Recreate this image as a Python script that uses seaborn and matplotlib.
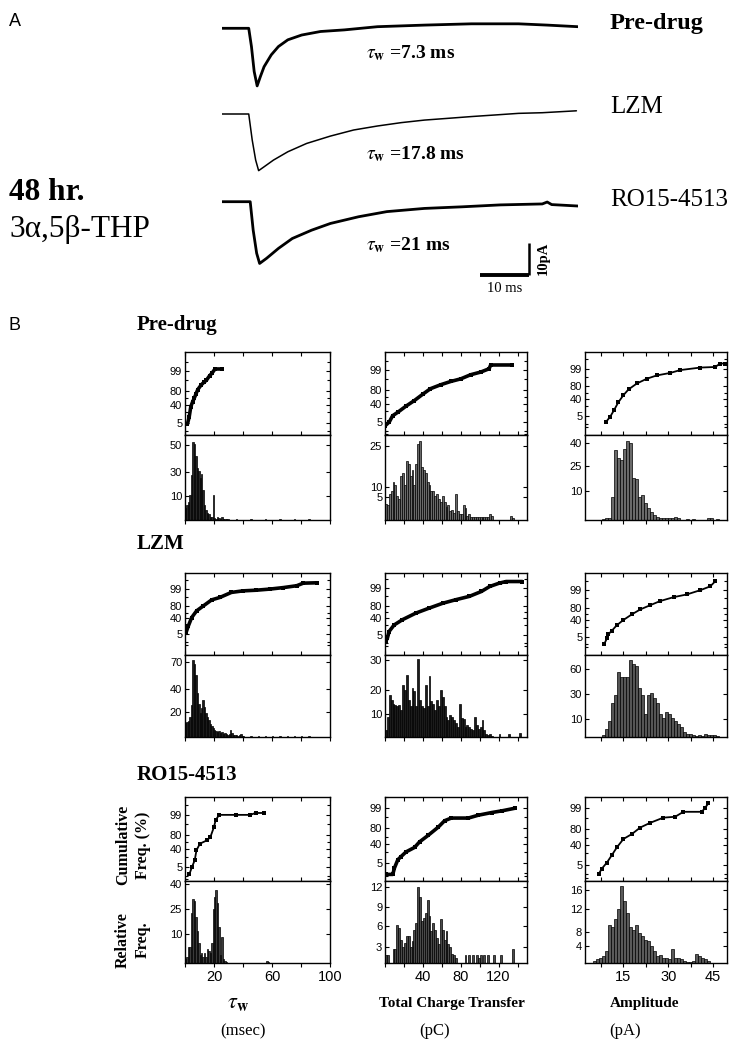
import numpy as np
import pandas as pd
import matplotlib
matplotlib.use("Agg")
import matplotlib.pyplot as plt
import seaborn as sns
from statistics import NormalDist

# ---------------- Panel A: averaged sIPSC traces (ms, pA) ----------------
trace_names = ["Pre-drug", "LZM", "RO15-4513"]
tau_values = ["7.3", "17.8", "21"]

pre_t = [0, 5.4, 5.95, 6.5, 7.1, 7.75, 8.5, 9.95, 11.4, 13.3, 16.1, 19.9, 24.7, 31.4, 40.9, 50.4, 59.9, 65.7, 71.9]
pre_i = [0, 0, -5.7, -13.5, -18.0, -15.1, -12.0, -8.3, -5.7, -3.6, -2.1, -1.0, -0.5, 0.5, 1.0, 1.4, 1.4, 1.0, 0.5]
lzm_t = [0, 5.4, 6.1, 6.8, 7.4, 8.5, 10.4, 13.3, 17.1, 21.9, 26.6, 31.4, 36.2, 40.9, 45.7, 50.4, 55.2, 59.9, 64.7, 71.6]
lzm_i = [0, 0, -8.1, -14.4, -17.7, -16.5, -14.4, -11.8, -9.2, -6.9, -5.0, -3.75, -2.7, -1.9, -1.35, -0.8, -0.3, 0.2, 0.4, 1.0]
ro_t = [0, 5.7, 6.3, 7.0, 7.6, 9.0, 11.4, 14.2, 18.1, 21.9, 27.6, 33.3, 40.9, 48.5, 56.2, 64.7, 65.7, 66.6, 71.9]
ro_i = [0, 0, -8.9, -16.1, -19.3, -17.7, -14.6, -11.5, -8.9, -6.8, -4.7, -3.1, -2.1, -1.6, -1.0, -0.7, -0.1, -0.9, -1.35]

scale_ms = 10
scale_pa = 10

# ---------------- Panel B: cumulative curves (x, %) ----------------
pre_tau_cx = [1.7, 2.9, 4.0, 5.2, 6.4, 7.6, 8.8, 11.2, 13.0, 14.8, 17.0, 18.5, 20.7, 25.5]
pre_tau_cp = [4, 11.5, 34, 48, 60, 72, 82, 90, 93, 95, 97.7, 98.5, 99.4, 99.4]
pre_chg_cx = [0, 4.6, 8, 13.3, 22, 31, 40, 48, 59, 69.5, 80, 90.5, 101, 110, 111.6, 134]
pre_chg_cp = [2.5, 5, 12, 18, 33, 50, 69, 82, 89, 93, 95.3, 97.7, 98.6, 99.3, 99.7, 99.7]
pre_amp_cx = [9.2, 10.7, 12, 13.4, 15.1, 16.8, 19.6, 22.9, 26.2, 30.7, 34, 40.7, 45.7, 47.3, 49]
pre_amp_cp = [1.5, 4.5, 12.7, 31, 54, 72, 86, 93, 96, 97.5, 98.6, 99.2, 99.3, 99.7, 99.7]

lzm_tau_cx = [0.7, 2.3, 4.6, 8, 12.6, 18.4, 24, 32, 40, 49, 58.6, 67.8, 77, 81.6, 90.8]
lzm_tau_cp = [6.7, 18, 43, 66, 80, 91.6, 94.4, 97.9, 98.5, 98.7, 99, 99.3, 99.56, 99.78, 99.8]
lzm_chg_cx = [0.7, 2.5, 4.3, 9.6, 18.4, 32.6, 46.8, 61, 75, 89, 101.8, 110.6, 121, 128, 145]
lzm_chg_cp = [1.4, 2.7, 8.7, 21, 36, 58, 73.5, 85, 91, 94.7, 97.9, 99.3, 99.7, 99.8, 99.8]
lzm_amp_cx = [8.7, 9.6, 10.1, 11.2, 12.9, 15.1, 17.9, 20.7, 24, 27.3, 31.8, 36.2, 40.7, 44, 45.7]
lzm_amp_cp = [1.1, 3.5, 7.4, 12.3, 25, 41, 60, 75, 85, 91.8, 95.8, 97.5, 99, 99.6, 99.9]

ro_tau_cx = [3.1, 4.8, 6.7, 7.9, 10.3, 15.1, 17.5, 19.9, 21.1, 23.5, 35.5, 45, 48.7, 54.7]
ro_tau_cp = [1.5, 5, 13, 36, 56, 65.7, 74.5, 92, 97.4, 99.1, 99.1, 99.1, 99.4, 99.4]
ro_chg_cx = [1, 8.2, 10, 13.5, 17, 22.3, 31.2, 36.5, 45.4, 56, 63, 70, 88, 98.6, 112.8, 123.4, 137.6]
ro_chg_cp = [0.7, 0.7, 2.3, 7.9, 12, 20, 30, 45, 63, 82, 91.8, 94.3, 94.3, 96.3, 97.6, 98.2, 98.9]
ro_amp_cx = [6.8, 7.9, 9.6, 11.2, 12.9, 15.1, 17.9, 20.7, 24, 28.4, 32.3, 35.1, 41.2, 42.3, 43.4]
ro_amp_cp = [1, 2.7, 6.7, 16, 33, 56, 69, 83, 90, 95, 95.6, 98, 98, 99, 99.6]

# ---------------- Panel B: relative frequency histograms ----------------
pre_tau_h = [8, 10, 12, 17, 30, 52, 51, 43, 35, 33, 28, 31, 20, 10, 7, 5, 4, 2, 2, 17,
             1.5, 1, 2, 1.5, 1, 2, 0.5, 0.5, 0.4, 0.4, 0, 0, 0, 0, 0, 0.4, 0, 0, 0, 0,
             0, 0, 0, 0, 0, 0.4, 0, 0, 0, 0, 0, 0, 0, 0, 0, 0.4, 0, 0, 0, 0,
             0, 0, 0, 0, 0, 0.4, 0, 0, 0, 0, 0, 0, 0, 0, 0, 0.4, 0, 0, 0, 0,
             0, 0, 0, 0, 0, 0.4]
pre_chg_h = [5.6, 5, 9, 10, 13, 12, 8, 7, 15, 16, 12, 20, 19, 15, 17, 12, 19, 26, 27, 18,
             17, 16, 13, 12, 10, 10, 8, 9, 7, 6, 8, 6, 4.5, 5, 3, 3.5, 2.5, 9, 3, 2,
             2, 5, 4, 1.5, 2, 1, 1, 1, 1, 1, 1, 1, 1, 1, 1, 2, 1.5, 0, 0, 0,
             0, 0, 0, 0, 0, 0, 1.2, 0.8]
pre_amp_h = [0.5, 1, 1, 12, 36, 32, 31, 37, 41, 40, 22, 21, 12, 13, 9, 6, 4, 2.5, 1.5, 1.2,
             1, 1.2, 0.8, 1, 1.5, 1.2, 0, 0, 0.6, 0, 0.6, 0, 0, 0, 0, 0.8, 0.8, 0, 0.4]

lzm_tau_h = [13, 14, 15, 19, 30, 72, 68, 58, 41, 31, 22, 27, 35, 28, 22, 19, 16, 12, 10, 8,
             7, 6, 5, 6, 4, 5, 3, 4, 3, 2, 3, 7, 4, 2, 1.5, 1.5, 1, 2, 3, 1,
             1, 0, 0, 0, 0, 1, 0, 0, 0, 0, 1, 0, 0, 0, 0, 1, 0, 0, 0, 0,
             1, 0, 0, 0, 0, 0.5, 0, 0, 0, 0, 1, 0, 0, 0, 0, 0.5, 0, 0, 0, 0,
             1, 0, 0, 0, 0, 0.5]
lzm_chg_h = [2.6, 8, 16.5, 14.5, 13, 12.5, 12, 12.5, 10.5, 20.5, 18.5, 24.4, 14.5, 12, 19, 18, 12, 30.4, 14.5, 12,
             11.5, 20.5, 12, 23.8, 14, 13, 10.5, 14.5, 12, 18.5, 15.8, 12, 8, 6.6, 8.6, 8, 6.6, 5.3, 4, 13,
             7.3, 7, 4, 4.6, 4, 3.3, 2.6, 8, 4.6, 3.3, 4, 6.6, 2.6, 1.3, 0.7, 1.3, 0.3, 0, 0, 0,
             1, 0, 0, 0, 0, 1.3, 0, 0, 0, 0, 0, 1.6]
lzm_amp_h = [1.4, 7, 14, 30, 37, 58, 53, 53, 53, 68, 65, 63, 43, 37, 20, 37, 39, 35, 30, 20,
             17, 22, 20, 17, 14, 11.5, 8.6, 4.3, 2.9, 2.3, 1.4, 1.2, 2, 1.2, 2.3, 1.4, 2, 1.4, 0.9]

ro_tau_h = [2, 3, 8, 8, 25, 32, 31, 23, 16, 10, 4, 5, 3, 5, 3, 7, 6, 5, 10, 27,
            33, 37, 30, 18, 4, 13, 2, 1, 0.5, 0, 0, 0, 0, 0, 0, 0, 0, 0, 0, 0,
            0, 0, 0, 0, 0, 0, 0, 0, 0, 0, 0, 0, 0, 0, 0, 0, 0.8, 0.6]
ro_chg_h = [1.2, 1.2, 0, 0, 2.2, 2.2, 6, 5.5, 3.7, 2.5, 3.2, 4.3, 4.3, 2.5, 3.5, 5.3, 6.4, 12, 10.5, 6.6,
            7.1, 7.9, 10, 7.4, 5, 6.4, 5.3, 4, 3, 6.9, 5.3, 3.7, 5, 3, 2.5, 1.4, 1.2, 0.8, 0, 0,
            0, 0, 1.2, 0, 1.2, 0, 1.2, 0, 1.2, 0.8, 1.2, 0, 1.2, 0, 1.2, 0, 0, 1.2, 0, 0,
            0, 1.2, 0, 0, 0, 0, 0, 2.2]
ro_amp_h = [0.5, 0.8, 1, 1.5, 2.6, 8.3, 7.9, 9.7, 11.8, 16.7, 13.5, 11, 7.9, 7.2, 8.3, 6.5, 5.8, 5, 4.7, 3.7,
            2.6, 1.5, 1.7, 1.2, 1, 0.8, 3, 1.2, 1.2, 0.8, 0.5, 0.3, 0.3, 0.5, 1.9, 1.5, 1.2, 0.8, 0.5]

row_names = ["Pre-drug", "LZM", "RO15-4513"]
x_titles = [r"$\tau_\mathbf{w}$", "Total Charge Transfer", "Amplitude"]
x_units = ["(msec)", "(pC)", "(pA)"]

# ---------------------------------------------------------------------
sns.set_theme(style="ticks")
plt.rcParams["font.family"] = ["Liberation Sans", "DejaVu Sans"]
plt.rcParams["mathtext.fontset"] = "stix"
for key in ["text.color", "axes.labelcolor", "xtick.color", "ytick.color", "axes.edgecolor"]:
    plt.rcParams[key] = "black"
SERIF = ["Liberation Serif", "DejaVu Serif"]

W, H = 732, 1050
fig = plt.figure(figsize=(W / 100, H / 100), dpi=100)


def px_axes(x0, y0, x1, y1):
    return fig.add_axes([x0 / W, 1 - y1 / H, (x1 - x0) / W, (y1 - y0) / H])


def px_text(x, y, s, **kw):
    kw.setdefault("va", "center")
    kw.setdefault("color", "black")
    fig.text(x / W, 1 - y / H, s, **kw)


# ---- Panel A ----
traces = [(pre_t, pre_i, 2.0), (lzm_t, lzm_i, 1.1), (ro_t, ro_i, 2.0)]
bases = [28.3, 114, 201.7]
px_per_ms, px_per_pa = 4.95, 3.2
for k, (t, i, lw) in enumerate(traces):
    b = bases[k]
    below = 90 if k == 2 else 70
    ax = px_axes(222, b - 15, 578, b + below)
    sns.lineplot(x=t, y=i, ax=ax, color="black", lw=lw, estimator=None, sort=False)
    ax.set_xlim(0, 356 / px_per_ms)
    ax.set_ylim(-below / px_per_pa, 15 / px_per_pa)
    ax.axis("off")
    if k == 2:
        x_end = (529 - 222) / px_per_ms
        y_bar = -(275 - b) / px_per_pa
        ax.plot([x_end - scale_ms, x_end], [y_bar, y_bar], color="black", lw=2.8,
                solid_capstyle="butt")
        ax.plot([x_end, x_end], [y_bar, y_bar + scale_pa], color="black", lw=1.8,
                solid_capstyle="butt")

px_text(9, 21, "A", fontsize=13)
px_text(9, 192, "48 hr.", family=SERIF, fontsize=22.5, fontweight="bold")
px_text(9, 229, "3α,5β-THP", family=SERIF, fontsize=22.5)
for k, name in enumerate(trace_names):
    px_text(610, [24, 107, 200][k], name, family=SERIF, fontsize=17.5 if k == 0 else 18,
            fontweight="bold" if k == 0 else "normal")
    px_text(366, [53, 154, 245][k], r"$\tau_\mathbf{w}$ =" + tau_values[k] + " ms",
            family=SERIF, fontsize=14, fontweight="bold")
px_text(505, 288, "10 ms", family=SERIF, fontsize=10.5, ha="center")
px_text(543, 258, "10pA", family=SERIF, fontsize=10.5, fontweight="bold",
        rotation=90, ha="center")

# ---- Panel B ----
px_text(8, 325, "B", fontsize=13)

ND = NormalDist()


def probit(p):
    p = np.clip(np.asarray(p, dtype=float) / 100.0, 1e-9, 1 - 1e-9)
    return np.vectorize(ND.inv_cdf, otypes=[float])(p)


def unprobit(z):
    return np.vectorize(ND.cdf, otypes=[float])(np.asarray(z, dtype=float)) * 100.0


cum_data = [[(pre_tau_cx, pre_tau_cp), (pre_chg_cx, pre_chg_cp), (pre_amp_cx, pre_amp_cp)],
            [(lzm_tau_cx, lzm_tau_cp), (lzm_chg_cx, lzm_chg_cp), (lzm_amp_cx, lzm_amp_cp)],
            [(ro_tau_cx, ro_tau_cp), (ro_chg_cx, ro_chg_cp), (ro_amp_cx, ro_amp_cp)]]
hist_data = [[pre_tau_h, pre_chg_h, pre_amp_h],
             [lzm_tau_h, lzm_chg_h, lzm_amp_h],
             [ro_tau_h, ro_chg_h, ro_amp_h]]

COL_X = [(185, 330), (385, 527), (585, 727)]
ROW_Y = [(352, 435, 520), (573, 655, 737), (797, 881, 963)]
XLIM = [(0, 100), (0, 150), (2.3, 49.6)]
XTICKS = [list(range(0, 101, 20)), list(range(0, 141, 20)), [7.5, 15, 22.5, 30, 37.5, 45]]
XTICKLAB = [["", "20", "", "60", "", "100"],
            ["", "", "40", "", "80", "", "120", ""],
            ["", "15", "", "30", "", "45"]]
BINS = [(0, 1), (0, 2), (8, 1)]
BINS_R3 = [(0, 1), (0, 2), (5, 1)]
CUM_LIM = [[(-2.61, 3.83), (-2.66, 3.75), (-3.23, 3.71)],
           [(-3.47, 3.74), (-3.35, 3.6), (-3.23, 3.8)],
           [(-2.72, 3.74), (-2.93, 2.98), (-2.79, 2.97)]]
HIST_TOP = [[56.8, 28.9, 44], [76.6, 32.1, 72.7], [41.3, 13, 17.9]]
HIST_TICKS = [[([16, 32, 50], ["10", "30", "50"]), ([7.9, 11.1, 25], ["5", "10", "25"]),
               ([14.8, 27.7, 40], ["10", "25", "40"])],
              [([23.6, 45, 70], ["20", "40", "70"]), ([9, 18.5, 30], ["10", "20", "30"]),
               ([15.9, 38, 60], ["10", "30", "60"])],
              [([14.7, 27, 40], ["10", "25", "40"]), ([2.6, 5.8, 8.9, 12], ["3", "6", "9", "12"]),
               ([3.8, 6.8, 11.8, 16], ["4", "8", "12", "16"])]]
FILL = [["#262626", "#6a6a6a", "#6a6a6a"],
        ["#1c1c1c", "#1c1c1c", "#555555"],
        ["#3a3a3a", "#4a4a4a", "#5a5a5a"]]
SPINE_LW = 1.0

for r in range(3):
    y0, ys, y1 = ROW_Y[r]
    px_text(137, [325, 544, 775][r], row_names[r], family=SERIF, fontsize=15,
            fontweight="bold")
    for c in range(3):
        x0, x1 = COL_X[c]
        axc = px_axes(x0, y0, x1, ys)
        axh = px_axes(x0, ys, x1, y1)

        # cumulative frequency on a probability axis
        cx, cp = cum_data[r][c]
        dotted = (c == 2) or (r == 2 and c == 0)
        sns.lineplot(x=cx, y=cp, ax=axc, color="black", lw=1.3 if dotted else 2.6,
                     marker="s", markersize=3.2 if dotted else 2.5, markeredgewidth=0,
                     estimator=None, sort=False)
        axc.set_yscale("function", functions=(probit, unprobit))
        lo, hi = CUM_LIM[r][c]
        axc.set_ylim(float(unprobit(lo)), float(unprobit(hi)))
        axc.set_yticks([5, 40, 80, 99])
        axc.set_yticklabels(["5", "40", "80", "99"])
        axc.set_yticks([0.5, 1, 20, 60, 95, 99.9], minor=True)
        axc.yaxis.set_minor_formatter(matplotlib.ticker.NullFormatter())
        axc.set_xlim(*XLIM[c])
        axc.set_xticks(XTICKS[c])
        axc.tick_params(axis="both", which="both", direction="in", top=True, right=True,
                        bottom=True, labelbottom=False, length=3, width=0.8,
                        labelsize=8, pad=2)
        axc.tick_params(axis="y", which="minor", length=2)
        axc.set_xlabel("")
        axc.set_ylabel("")

        # relative frequency histogram
        start, width = (BINS_R3 if r == 2 else BINS)[c]
        h = [float(v) for v in hist_data[r][c]]
        edges = [start + width * j for j in range(len(h) + 1)]
        df = pd.DataFrame({"x": [e + width / 2 for e in edges[:-1]], "w": h})
        sns.histplot(data=df, x="x", weights="w", bins=edges, ax=axh, color=FILL[r][c],
                     edgecolor="black", linewidth=0.5, alpha=1, legend=False)
        axh.set_xlim(*XLIM[c])
        axh.set_ylim(0, HIST_TOP[r][c])
        tp, tl = HIST_TICKS[r][c]
        axh.set_yticks(tp)
        axh.set_yticklabels(tl)
        axh.set_xticks(XTICKS[c])
        axh.set_xticklabels(XTICKLAB[c] if r == 2 else [""] * len(XTICKS[c]))
        axh.tick_params(axis="y", direction="in", right=True, length=3, width=0.8,
                        labelsize=8, pad=2)
        axh.tick_params(axis="x", direction="out", length=3, width=0.8, labelsize=10.5,
                        pad=2)
        axh.set_xlabel("")
        axh.set_ylabel("")

        for a in (axc, axh):
            for s in a.spines.values():
                s.set_visible(True)
                s.set_linewidth(SPINE_LW)
                s.set_color("black")

# axis titles of the bottom row
px_text(133, 845, "Cumulative\nFreq. (%)", family=SERIF, fontsize=11.5, fontweight="bold",
        rotation=90, ha="center", multialignment="center", linespacing=1.3)
px_text(133, 940, "Relative\nFreq.", family=SERIF, fontsize=11.5, fontweight="bold",
        rotation=90, ha="center", multialignment="center", linespacing=1.3)
for c, (xt, xu) in enumerate(zip(x_titles, x_units)):
    px_text([238, 452, 645][c], 1003, xt, family=SERIF, fontsize=16 if c == 0 else 11,
            fontweight="bold", ha="center")
    px_text([243, 435, 625][c], 1031, xu, family=SERIF, fontsize=12, ha="center")

fig.savefig("out.png", dpi=100)
